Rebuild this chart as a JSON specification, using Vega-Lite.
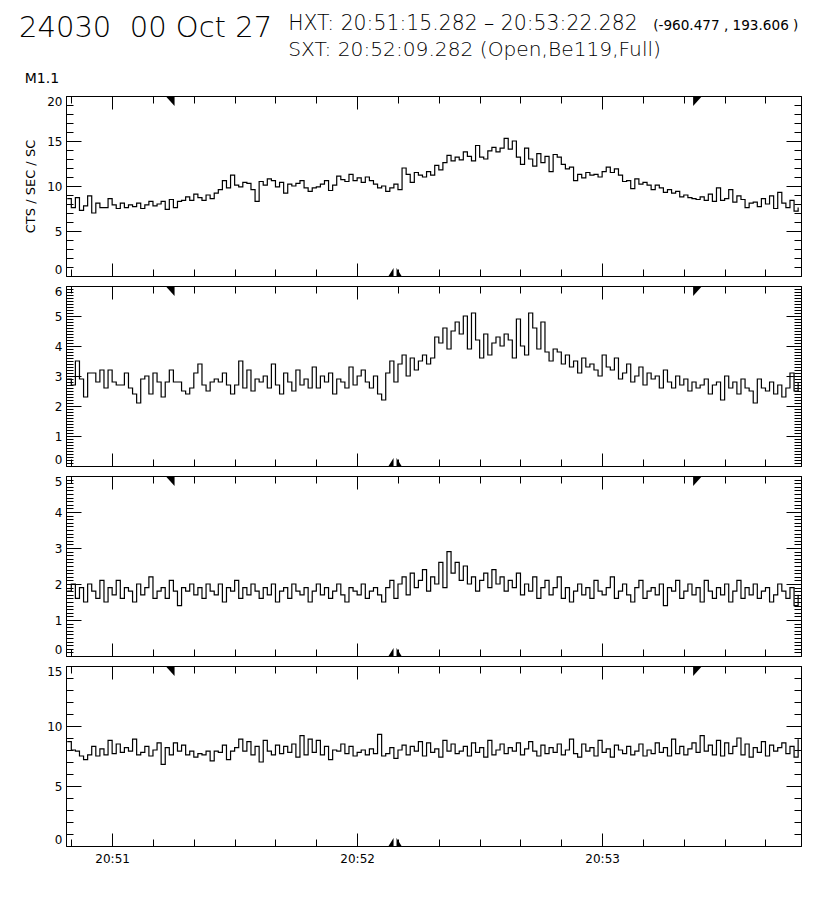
{
"$schema":"https://vega.github.io/schema/vega-lite/v6.json",
"background":"white",
"padding":{"left":18,"top":13,"right":5,"bottom":5},
"spacing":7,
"datasets":{
"mk":[{"t":75.282,"k":"s"},{"t":202.282,"k":"e"},{"t":129.282,"k":"x"}],
"lc":[
{"t":49,"a":8.6,"b":2.9,"c":1.8,"d":8.7},
{"t":50,"a":7.6,"b":2.7,"c":2.0,"d":8.0},
{"t":51,"a":8.7,"b":3.5,"c":1.6,"d":7.9},
{"t":52,"a":7.3,"b":2.9,"c":1.9,"d":7.5},
{"t":53,"a":7.8,"b":2.3,"c":1.5,"d":7.2},
{"t":54,"a":8.9,"b":3.1,"c":2.0,"d":7.6},
{"t":55,"a":7.0,"b":3.1,"c":1.8,"d":8.3},
{"t":56,"a":8.1,"b":2.8,"c":1.6,"d":7.5},
{"t":57,"a":7.6,"b":3.2,"c":2.1,"d":8.1},
{"t":58,"a":7.6,"b":2.6,"c":1.5,"d":7.6},
{"t":59,"a":8.6,"b":3.2,"c":1.9,"d":8.8},
{"t":60,"a":7.9,"b":2.8,"c":1.7,"d":7.7},
{"t":61,"a":7.5,"b":2.7,"c":2.1,"d":8.5},
{"t":62,"a":8.1,"b":2.7,"c":1.6,"d":7.8},
{"t":63,"a":7.6,"b":3.1,"c":1.9,"d":8.2},
{"t":64,"a":7.9,"b":2.6,"c":1.8,"d":7.9},
{"t":65,"a":7.7,"b":2.4,"c":1.5,"d":8.9},
{"t":66,"a":8.1,"b":2.1,"c":2.0,"d":7.6},
{"t":67,"a":7.5,"b":2.9,"c":1.7,"d":7.8},
{"t":68,"a":7.9,"b":3.0,"c":1.9,"d":8.3},
{"t":69,"a":8.3,"b":2.4,"c":2.2,"d":7.5},
{"t":70,"a":7.8,"b":3.1,"c":1.6,"d":8.0},
{"t":71,"a":8.0,"b":2.8,"c":1.8,"d":8.6},
{"t":72,"a":8.3,"b":2.3,"c":1.9,"d":6.8},
{"t":73,"a":7.4,"b":2.8,"c":1.6,"d":8.2},
{"t":74,"a":8.5,"b":3.2,"c":2.1,"d":7.6},
{"t":75,"a":7.6,"b":2.8,"c":1.8,"d":8.6},
{"t":76,"a":8.3,"b":2.8,"c":1.4,"d":7.9},
{"t":77,"a":8.4,"b":2.5,"c":1.9,"d":8.4},
{"t":78,"a":8.8,"b":2.4,"c":1.8,"d":7.6},
{"t":79,"a":8.4,"b":2.6,"c":2.0,"d":7.9},
{"t":80,"a":9.1,"b":3.1,"c":1.7,"d":7.4},
{"t":81,"a":8.7,"b":3.4,"c":1.9,"d":7.7},
{"t":82,"a":8.4,"b":2.7,"c":1.6,"d":7.6},
{"t":83,"a":9.0,"b":2.5,"c":2.0,"d":7.9},
{"t":84,"a":8.6,"b":2.8,"c":1.8,"d":7.1},
{"t":85,"a":9.2,"b":2.9,"c":1.7,"d":7.9},
{"t":86,"a":9.6,"b":2.8,"c":2.0,"d":7.8},
{"t":87,"a":10.6,"b":3.1,"c":1.5,"d":8.4},
{"t":88,"a":9.8,"b":2.7,"c":1.9,"d":7.2},
{"t":89,"a":11.2,"b":2.4,"c":1.8,"d":7.9},
{"t":90,"a":10.1,"b":2.7,"c":2.1,"d":8.2},
{"t":91,"a":9.9,"b":3.5,"c":1.6,"d":8.9},
{"t":92,"a":10.4,"b":2.6,"c":1.9,"d":7.9},
{"t":93,"a":10.3,"b":3.2,"c":1.7,"d":8.7},
{"t":94,"a":9.6,"b":2.5,"c":2.0,"d":7.6},
{"t":95,"a":8.3,"b":2.9,"c":1.8,"d":8.3},
{"t":96,"a":10.5,"b":2.8,"c":1.6,"d":7.0},
{"t":97,"a":10.1,"b":3.0,"c":1.9,"d":8.8},
{"t":98,"a":10.8,"b":2.6,"c":1.7,"d":7.9},
{"t":99,"a":10.6,"b":3.4,"c":2.0,"d":7.6},
{"t":100,"a":9.9,"b":2.7,"c":1.5,"d":8.4},
{"t":101,"a":10.4,"b":2.4,"c":1.8,"d":7.7},
{"t":102,"a":9.2,"b":3.1,"c":1.9,"d":8.3},
{"t":103,"a":10.2,"b":2.8,"c":1.6,"d":7.8},
{"t":104,"a":10.0,"b":2.5,"c":2.0,"d":8.5},
{"t":105,"a":10.3,"b":3.2,"c":1.8,"d":7.4},
{"t":106,"a":10.6,"b":2.7,"c":1.7,"d":9.2},
{"t":107,"a":9.8,"b":2.9,"c":1.9,"d":7.6},
{"t":108,"a":9.4,"b":2.6,"c":1.5,"d":8.9},
{"t":109,"a":9.8,"b":3.3,"c":1.8,"d":7.8},
{"t":110,"a":9.9,"b":2.6,"c":2.0,"d":8.8},
{"t":111,"a":10.2,"b":3.0,"c":1.7,"d":7.6},
{"t":112,"a":10.6,"b":2.8,"c":1.9,"d":8.3},
{"t":113,"a":9.5,"b":3.1,"c":1.6,"d":7.2},
{"t":114,"a":10.1,"b":2.4,"c":1.8,"d":8.0},
{"t":115,"a":11.1,"b":2.9,"c":2.0,"d":7.9},
{"t":116,"a":10.7,"b":2.8,"c":1.7,"d":8.5},
{"t":117,"a":10.5,"b":2.6,"c":1.5,"d":7.7},
{"t":118,"a":11.3,"b":3.3,"c":1.9,"d":8.3},
{"t":119,"a":10.6,"b":2.7,"c":1.8,"d":7.5},
{"t":120,"a":10.9,"b":3.0,"c":1.7,"d":7.8},
{"t":121,"a":10.4,"b":3.2,"c":2.0,"d":8.0},
{"t":122,"a":11.0,"b":2.8,"c":1.6,"d":7.6},
{"t":123,"a":10.6,"b":2.6,"c":1.8,"d":8.1},
{"t":124,"a":10.2,"b":3.0,"c":1.9,"d":7.7},
{"t":125,"a":9.8,"b":2.4,"c":1.7,"d":9.3},
{"t":126,"a":10.0,"b":2.2,"c":1.5,"d":7.5},
{"t":127,"a":9.4,"b":3.1,"c":1.9,"d":7.7},
{"t":128,"a":9.8,"b":3.5,"c":2.1,"d":8.2},
{"t":129,"a":10.2,"b":2.8,"c":1.6,"d":7.3},
{"t":130,"a":9.6,"b":3.4,"c":2.0,"d":8.0},
{"t":131,"a":12.0,"b":3.7,"c":2.2,"d":8.4},
{"t":132,"a":11.3,"b":3.0,"c":1.7,"d":7.6},
{"t":133,"a":10.4,"b":3.6,"c":2.3,"d":8.3},
{"t":134,"a":11.5,"b":3.2,"c":1.9,"d":7.9},
{"t":135,"a":11.2,"b":3.5,"c":2.1,"d":8.7},
{"t":136,"a":11.0,"b":3.7,"c":2.4,"d":7.5},
{"t":137,"a":11.6,"b":3.4,"c":1.8,"d":8.6},
{"t":138,"a":11.2,"b":3.6,"c":2.2,"d":7.8},
{"t":139,"a":12.3,"b":4.3,"c":2.0,"d":8.1},
{"t":140,"a":11.8,"b":4.1,"c":2.6,"d":7.4},
{"t":141,"a":12.6,"b":4.6,"c":1.9,"d":8.8},
{"t":142,"a":13.4,"b":3.9,"c":2.9,"d":7.9},
{"t":143,"a":12.8,"b":4.5,"c":2.3,"d":8.5},
{"t":144,"a":13.2,"b":4.8,"c":2.6,"d":7.7},
{"t":145,"a":12.9,"b":4.4,"c":2.1,"d":7.9},
{"t":146,"a":13.8,"b":5.0,"c":2.5,"d":8.3},
{"t":147,"a":13.3,"b":3.9,"c":2.0,"d":7.5},
{"t":148,"a":12.8,"b":5.1,"c":2.2,"d":8.6},
{"t":149,"a":14.5,"b":4.2,"c":1.8,"d":7.8},
{"t":150,"a":13.2,"b":3.6,"c":2.1,"d":8.2},
{"t":151,"a":13.0,"b":4.4,"c":2.3,"d":7.4},
{"t":152,"a":13.9,"b":3.7,"c":1.9,"d":8.8},
{"t":153,"a":14.3,"b":4.1,"c":2.4,"d":7.6},
{"t":154,"a":13.8,"b":4.3,"c":2.0,"d":8.0},
{"t":155,"a":14.2,"b":4.0,"c":2.2,"d":8.5},
{"t":156,"a":15.3,"b":4.4,"c":1.8,"d":7.7},
{"t":157,"a":14.1,"b":4.2,"c":2.1,"d":8.2},
{"t":158,"a":15.0,"b":3.6,"c":1.9,"d":7.9},
{"t":159,"a":13.2,"b":4.9,"c":2.3,"d":8.6},
{"t":160,"a":12.4,"b":4.0,"c":1.7,"d":7.6},
{"t":161,"a":14.2,"b":3.7,"c":2.0,"d":8.1},
{"t":162,"a":13.0,"b":5.1,"c":1.8,"d":8.7},
{"t":163,"a":12.2,"b":4.6,"c":2.2,"d":7.9},
{"t":164,"a":13.6,"b":3.9,"c":1.6,"d":7.5},
{"t":165,"a":12.6,"b":4.8,"c":1.9,"d":8.4},
{"t":166,"a":13.3,"b":3.8,"c":2.1,"d":7.7},
{"t":167,"a":11.6,"b":3.5,"c":1.7,"d":8.2},
{"t":168,"a":13.5,"b":3.9,"c":1.9,"d":7.8},
{"t":169,"a":13.2,"b":3.8,"c":2.2,"d":8.5},
{"t":170,"a":12.4,"b":3.4,"c":1.6,"d":7.6},
{"t":171,"a":11.9,"b":3.7,"c":1.9,"d":8.0},
{"t":172,"a":12.1,"b":3.3,"c":1.5,"d":8.9},
{"t":173,"a":10.6,"b":3.5,"c":1.8,"d":7.7},
{"t":174,"a":11.3,"b":3.1,"c":2.0,"d":7.4},
{"t":175,"a":10.9,"b":3.6,"c":1.7,"d":8.5},
{"t":176,"a":11.5,"b":3.3,"c":1.9,"d":7.9},
{"t":177,"a":11.2,"b":3.4,"c":1.6,"d":8.2},
{"t":178,"a":11.3,"b":3.2,"c":2.1,"d":7.5},
{"t":179,"a":11.0,"b":3.0,"c":1.8,"d":8.8},
{"t":180,"a":11.6,"b":3.7,"c":1.7,"d":7.8},
{"t":181,"a":12.1,"b":3.3,"c":1.9,"d":8.1},
{"t":182,"a":11.5,"b":3.2,"c":2.2,"d":7.4},
{"t":183,"a":11.9,"b":3.6,"c":1.6,"d":8.4},
{"t":184,"a":11.2,"b":2.9,"c":1.8,"d":8.0},
{"t":185,"a":10.5,"b":3.1,"c":2.0,"d":7.7},
{"t":186,"a":10.6,"b":3.4,"c":1.7,"d":8.3},
{"t":187,"a":9.7,"b":2.8,"c":1.5,"d":7.6},
{"t":188,"a":10.8,"b":3.0,"c":1.9,"d":7.9},
{"t":189,"a":10.2,"b":3.3,"c":2.1,"d":8.5},
{"t":190,"a":10.4,"b":2.7,"c":1.6,"d":7.5},
{"t":191,"a":10.1,"b":3.1,"c":1.8,"d":8.0},
{"t":192,"a":9.6,"b":2.9,"c":1.9,"d":7.7},
{"t":193,"a":10.1,"b":3.0,"c":1.7,"d":8.6},
{"t":194,"a":9.8,"b":2.6,"c":2.0,"d":7.8},
{"t":195,"a":9.3,"b":3.2,"c":1.4,"d":8.2},
{"t":196,"a":9.6,"b":2.8,"c":1.9,"d":7.5},
{"t":197,"a":9.2,"b":2.6,"c":1.8,"d":8.9},
{"t":198,"a":9.4,"b":3.0,"c":2.1,"d":7.7},
{"t":199,"a":8.8,"b":2.7,"c":1.6,"d":8.3},
{"t":200,"a":9.0,"b":2.9,"c":1.8,"d":7.6},
{"t":201,"a":8.7,"b":2.5,"c":2.0,"d":8.1},
{"t":202,"a":8.6,"b":2.8,"c":1.7,"d":8.6},
{"t":203,"a":8.5,"b":2.6,"c":1.9,"d":7.8},
{"t":204,"a":8.8,"b":2.7,"c":1.5,"d":9.2},
{"t":205,"a":8.4,"b":2.9,"c":2.1,"d":7.9},
{"t":206,"a":9.1,"b":2.4,"c":1.8,"d":8.4},
{"t":207,"a":8.3,"b":2.7,"c":1.6,"d":7.6},
{"t":208,"a":9.8,"b":2.8,"c":1.9,"d":8.8},
{"t":209,"a":8.4,"b":2.2,"c":1.7,"d":7.5},
{"t":210,"a":8.6,"b":3.0,"c":2.0,"d":8.6},
{"t":211,"a":9.6,"b":2.6,"c":1.5,"d":7.7},
{"t":212,"a":8.2,"b":2.8,"c":1.8,"d":8.3},
{"t":213,"a":8.9,"b":2.4,"c":2.1,"d":9.0},
{"t":214,"a":8.5,"b":2.9,"c":1.6,"d":7.6},
{"t":215,"a":7.6,"b":2.6,"c":1.9,"d":8.5},
{"t":216,"a":8.1,"b":2.5,"c":1.7,"d":7.4},
{"t":217,"a":8.2,"b":2.1,"c":2.0,"d":8.2},
{"t":218,"a":7.7,"b":2.9,"c":1.6,"d":7.8},
{"t":219,"a":8.6,"b":2.6,"c":1.8,"d":8.7},
{"t":220,"a":8.0,"b":2.5,"c":1.9,"d":7.5},
{"t":221,"a":8.9,"b":2.8,"c":1.5,"d":8.4},
{"t":222,"a":7.5,"b":2.4,"c":1.7,"d":7.9},
{"t":223,"a":9.3,"b":2.7,"c":2.0,"d":8.2},
{"t":224,"a":8.1,"b":2.3,"c":1.8,"d":8.6},
{"t":225,"a":7.6,"b":2.6,"c":1.6,"d":7.7},
{"t":226,"a":8.4,"b":3.1,"c":1.9,"d":8.3},
{"t":227,"a":7.2,"b":2.5,"c":1.4,"d":7.4},
{"t":228,"a":7.6,"b":2.8,"c":1.7,"d":8.9}
]},
"vconcat":[
{"width":735,"height":180,"resolve":{"axis":{"x":"independent","y":"independent"}},
"layer":[
{"data":{"name":"lc"},"mark":{"type":"line","interpolate":"step-after","color":"black","strokeWidth":1.2},
"encoding":{"x":{"field":"t","type":"quantitative","scale":{"domain":[48.7,228.7],"nice":false,"zero":false},"axis":null},
"y":{"field":"a","type":"quantitative","scale":{"domain":[0,20],"nice":false,"zero":false},"axis":{"title":"CTS / SEC / SC","values":[0,5,10,15,20],"ticks":false,"labelFlush":true,"labelPadding":4,"titlePadding":9}}}},
{"data":{"name":"lc"},"mark":{"type":"line","opacity":0},
"encoding":{"x":{"field":"t","type":"quantitative","axis":{"orient":"top","offset":-180,"values":[60,120,180],"labels":false,"tickSize":13,"title":null}},
"y":{"field":"a","type":"quantitative","axis":{"orient":"right","offset":-735,"values":[0,5,10,15,20],"labels":false,"tickSize":15,"title":null}}}},
{"data":{"name":"lc"},"mark":{"type":"line","opacity":0},
"encoding":{"x":{"field":"t","type":"quantitative","axis":{"orient":"top","offset":-180,"values":[50,60,70,80,90,100,110,120,130,140,150,160,170,180,190,200,210,220],"labels":false,"tickSize":7,"title":null}},
"y":{"field":"a","type":"quantitative","axis":{"orient":"right","offset":-735,"tickCount":20,"labels":false,"tickSize":7,"title":null}}}},
{"data":{"name":"lc"},"mark":{"type":"line","opacity":0},
"encoding":{"x":{"field":"t","type":"quantitative","axis":{"orient":"bottom","offset":-180,"values":[60,120,180],"labels":false,"tickSize":13,"title":null}},
"y":{"field":"a","type":"quantitative","axis":{"orient":"left","offset":-735,"values":[0,5,10,15,20],"labels":false,"tickSize":15,"title":null}}}},
{"data":{"name":"lc"},"mark":{"type":"line","opacity":0},
"encoding":{"x":{"field":"t","type":"quantitative","axis":{"orient":"bottom","offset":-180,"values":[50,60,70,80,90,100,110,120,130,140,150,160,170,180,190,200,210,220],"labels":false,"tickSize":7,"title":null}},
"y":{"field":"a","type":"quantitative","axis":{"orient":"left","offset":-735,"tickCount":20,"labels":false,"tickSize":7,"title":null}}}},
{"data":{"name":"mk"},"transform":[{"filter":"datum.k == 's'"}],"mark":{"type":"point","shape":"M -1.8 0 L 0 0 L 0 2 Z","filled":true,"color":"black","opacity":1,"size":100,"strokeWidth":0},
"encoding":{"x":{"field":"t","type":"quantitative","axis":null},"y":{"datum":20,"type":"quantitative","axis":null}}},
{"data":{"name":"mk"},"transform":[{"filter":"datum.k == 'e'"}],"mark":{"type":"point","shape":"M 0 0 L 1.8 0 L 0 2 Z","filled":true,"color":"black","opacity":1,"size":100,"strokeWidth":0},
"encoding":{"x":{"field":"t","type":"quantitative","axis":null},"y":{"datum":20,"type":"quantitative","axis":null}}},
{"data":{"name":"mk"},"transform":[{"filter":"datum.k == 'x'"}],"mark":{"type":"point","shape":"M -0.3 0 L -0.3 -1.6 L -1.3 0 Z M 0.3 0 L 0.3 -1.6 L 1.3 0 Z","filled":true,"color":"black","opacity":1,"size":100,"strokeWidth":0},
"encoding":{"x":{"field":"t","type":"quantitative","axis":null},"y":{"datum":0,"type":"quantitative","axis":null}}},
{"data":{"values":[{}]},"mark":{"type":"text","text":"24030\u00a0\u00a000 Oct 27","align":"left","baseline":"alphabetic","fontSize":29,"font":"DejaVu Sans","fontWeight":200,"color":"black"},
"encoding":{"x":{"datum":37.2,"type":"quantitative","axis":null},"y":{"datum":26.6,"type":"quantitative","axis":null}}},
{"data":{"values":[{}]},"mark":{"type":"text","text":"HXT: 20:51:15.282 \u2013 20:53:22.282","align":"left","baseline":"alphabetic","fontSize":20.4,"font":"DejaVu Sans","fontWeight":200,"color":"black"},
"encoding":{"x":{"datum":103.1,"type":"quantitative","axis":null},"y":{"datum":27.3,"type":"quantitative","axis":null}}},
{"data":{"values":[{}]},"mark":{"type":"text","text":"(-960.477 , 193.606 )","align":"left","baseline":"alphabetic","fontSize":13.6,"font":"DejaVu Sans","fontWeight":"normal","color":"black"},
"encoding":{"x":{"datum":192.5,"type":"quantitative","axis":null},"y":{"datum":27.3,"type":"quantitative","axis":null}}},
{"data":{"values":[{}]},"mark":{"type":"text","text":"SXT: 20:52:09.282 (Open,Be119,Full)","align":"left","baseline":"alphabetic","fontSize":20.2,"font":"DejaVu Sans","fontWeight":200,"color":"black"},
"encoding":{"x":{"datum":103.1,"type":"quantitative","axis":null},"y":{"datum":24.5,"type":"quantitative","axis":null}}},
{"data":{"values":[{}]},"mark":{"type":"text","text":"M1.1","align":"left","baseline":"alphabetic","fontSize":14,"font":"DejaVu Sans","fontWeight":"normal","color":"black"},
"encoding":{"x":{"datum":38.6,"type":"quantitative","axis":null},"y":{"datum":21.5,"type":"quantitative","axis":null}}}
]},
{"width":735,"height":180,"resolve":{"axis":{"x":"independent","y":"independent"}},
"layer":[
{"data":{"name":"lc"},"mark":{"type":"line","interpolate":"step-after","color":"black","strokeWidth":1.2},
"encoding":{"x":{"field":"t","type":"quantitative","scale":{"domain":[48.7,228.7],"nice":false,"zero":false},"axis":null},
"y":{"field":"b","type":"quantitative","scale":{"domain":[0,6],"nice":false,"zero":false},"axis":{"title":null,"values":[0,1,2,3,4,5,6],"ticks":false,"labelFlush":true,"labelPadding":4}}}},
{"data":{"name":"lc"},"mark":{"type":"line","opacity":0},
"encoding":{"x":{"field":"t","type":"quantitative","axis":{"orient":"top","offset":-180,"values":[60,120,180],"labels":false,"tickSize":13,"title":null}},
"y":{"field":"b","type":"quantitative","axis":{"orient":"right","offset":-735,"values":[0,1,2,3,4,5,6],"labels":false,"tickSize":15,"title":null}}}},
{"data":{"name":"lc"},"mark":{"type":"line","opacity":0},
"encoding":{"x":{"field":"t","type":"quantitative","axis":{"orient":"top","offset":-180,"values":[50,60,70,80,90,100,110,120,130,140,150,160,170,180,190,200,210,220],"labels":false,"tickSize":7,"title":null}},
"y":{"field":"b","type":"quantitative","axis":{"orient":"right","offset":-735,"tickCount":60,"labels":false,"tickSize":7,"title":null}}}},
{"data":{"name":"lc"},"mark":{"type":"line","opacity":0},
"encoding":{"x":{"field":"t","type":"quantitative","axis":{"orient":"bottom","offset":-180,"values":[60,120,180],"labels":false,"tickSize":13,"title":null}},
"y":{"field":"b","type":"quantitative","axis":{"orient":"left","offset":-735,"values":[0,1,2,3,4,5,6],"labels":false,"tickSize":15,"title":null}}}},
{"data":{"name":"lc"},"mark":{"type":"line","opacity":0},
"encoding":{"x":{"field":"t","type":"quantitative","axis":{"orient":"bottom","offset":-180,"values":[50,60,70,80,90,100,110,120,130,140,150,160,170,180,190,200,210,220],"labels":false,"tickSize":7,"title":null}},
"y":{"field":"b","type":"quantitative","axis":{"orient":"left","offset":-735,"tickCount":60,"labels":false,"tickSize":7,"title":null}}}},
{"data":{"name":"mk"},"transform":[{"filter":"datum.k == 's'"}],"mark":{"type":"point","shape":"M -1.8 0 L 0 0 L 0 2 Z","filled":true,"color":"black","opacity":1,"size":100,"strokeWidth":0},
"encoding":{"x":{"field":"t","type":"quantitative","axis":null},"y":{"datum":6,"type":"quantitative","axis":null}}},
{"data":{"name":"mk"},"transform":[{"filter":"datum.k == 'e'"}],"mark":{"type":"point","shape":"M 0 0 L 1.8 0 L 0 2 Z","filled":true,"color":"black","opacity":1,"size":100,"strokeWidth":0},
"encoding":{"x":{"field":"t","type":"quantitative","axis":null},"y":{"datum":6,"type":"quantitative","axis":null}}},
{"data":{"name":"mk"},"transform":[{"filter":"datum.k == 'x'"}],"mark":{"type":"point","shape":"M -0.3 0 L -0.3 -1.6 L -1.3 0 Z M 0.3 0 L 0.3 -1.6 L 1.3 0 Z","filled":true,"color":"black","opacity":1,"size":100,"strokeWidth":0},
"encoding":{"x":{"field":"t","type":"quantitative","axis":null},"y":{"datum":0,"type":"quantitative","axis":null}}}
]},
{"width":735,"height":180,"resolve":{"axis":{"x":"independent","y":"independent"}},
"layer":[
{"data":{"name":"lc"},"mark":{"type":"line","interpolate":"step-after","color":"black","strokeWidth":1.2},
"encoding":{"x":{"field":"t","type":"quantitative","scale":{"domain":[48.7,228.7],"nice":false,"zero":false},"axis":null},
"y":{"field":"c","type":"quantitative","scale":{"domain":[0,5],"nice":false,"zero":false},"axis":{"title":null,"values":[0,1,2,3,4,5],"ticks":false,"labelFlush":true,"labelPadding":4}}}},
{"data":{"name":"lc"},"mark":{"type":"line","opacity":0},
"encoding":{"x":{"field":"t","type":"quantitative","axis":{"orient":"top","offset":-180,"values":[60,120,180],"labels":false,"tickSize":13,"title":null}},
"y":{"field":"c","type":"quantitative","axis":{"orient":"right","offset":-735,"values":[0,1,2,3,4,5],"labels":false,"tickSize":15,"title":null}}}},
{"data":{"name":"lc"},"mark":{"type":"line","opacity":0},
"encoding":{"x":{"field":"t","type":"quantitative","axis":{"orient":"top","offset":-180,"values":[50,60,70,80,90,100,110,120,130,140,150,160,170,180,190,200,210,220],"labels":false,"tickSize":7,"title":null}},
"y":{"field":"c","type":"quantitative","axis":{"orient":"right","offset":-735,"tickCount":50,"labels":false,"tickSize":7,"title":null}}}},
{"data":{"name":"lc"},"mark":{"type":"line","opacity":0},
"encoding":{"x":{"field":"t","type":"quantitative","axis":{"orient":"bottom","offset":-180,"values":[60,120,180],"labels":false,"tickSize":13,"title":null}},
"y":{"field":"c","type":"quantitative","axis":{"orient":"left","offset":-735,"values":[0,1,2,3,4,5],"labels":false,"tickSize":15,"title":null}}}},
{"data":{"name":"lc"},"mark":{"type":"line","opacity":0},
"encoding":{"x":{"field":"t","type":"quantitative","axis":{"orient":"bottom","offset":-180,"values":[50,60,70,80,90,100,110,120,130,140,150,160,170,180,190,200,210,220],"labels":false,"tickSize":7,"title":null}},
"y":{"field":"c","type":"quantitative","axis":{"orient":"left","offset":-735,"tickCount":50,"labels":false,"tickSize":7,"title":null}}}},
{"data":{"name":"mk"},"transform":[{"filter":"datum.k == 's'"}],"mark":{"type":"point","shape":"M -1.8 0 L 0 0 L 0 2 Z","filled":true,"color":"black","opacity":1,"size":100,"strokeWidth":0},
"encoding":{"x":{"field":"t","type":"quantitative","axis":null},"y":{"datum":5,"type":"quantitative","axis":null}}},
{"data":{"name":"mk"},"transform":[{"filter":"datum.k == 'e'"}],"mark":{"type":"point","shape":"M 0 0 L 1.8 0 L 0 2 Z","filled":true,"color":"black","opacity":1,"size":100,"strokeWidth":0},
"encoding":{"x":{"field":"t","type":"quantitative","axis":null},"y":{"datum":5,"type":"quantitative","axis":null}}},
{"data":{"name":"mk"},"transform":[{"filter":"datum.k == 'x'"}],"mark":{"type":"point","shape":"M -0.3 0 L -0.3 -1.6 L -1.3 0 Z M 0.3 0 L 0.3 -1.6 L 1.3 0 Z","filled":true,"color":"black","opacity":1,"size":100,"strokeWidth":0},
"encoding":{"x":{"field":"t","type":"quantitative","axis":null},"y":{"datum":0,"type":"quantitative","axis":null}}}
]},
{"width":735,"height":180,"resolve":{"axis":{"x":"independent","y":"independent"}},
"layer":[
{"data":{"name":"lc"},"mark":{"type":"line","interpolate":"step-after","color":"black","strokeWidth":1.2},
"encoding":{"x":{"field":"t","type":"quantitative","scale":{"domain":[48.7,228.7],"nice":false,"zero":false},"axis":{"title":null,"values":[60,120,180],"ticks":false,"labelPadding":7,"labelExpr":"'20:5' + (datum.value / 60)"}},
"y":{"field":"d","type":"quantitative","scale":{"domain":[0,15],"nice":false,"zero":false},"axis":{"title":null,"values":[0,5,10,15],"ticks":false,"labelFlush":true,"labelPadding":4}}}},
{"data":{"name":"lc"},"mark":{"type":"line","opacity":0},
"encoding":{"x":{"field":"t","type":"quantitative","axis":{"orient":"top","offset":-180,"values":[60,120,180],"labels":false,"tickSize":13,"title":null}},
"y":{"field":"d","type":"quantitative","axis":{"orient":"right","offset":-735,"values":[0,5,10,15],"labels":false,"tickSize":15,"title":null}}}},
{"data":{"name":"lc"},"mark":{"type":"line","opacity":0},
"encoding":{"x":{"field":"t","type":"quantitative","axis":{"orient":"top","offset":-180,"values":[50,60,70,80,90,100,110,120,130,140,150,160,170,180,190,200,210,220],"labels":false,"tickSize":7,"title":null}},
"y":{"field":"d","type":"quantitative","axis":{"orient":"right","offset":-735,"tickCount":15,"labels":false,"tickSize":7,"title":null}}}},
{"data":{"name":"lc"},"mark":{"type":"line","opacity":0},
"encoding":{"x":{"field":"t","type":"quantitative","axis":{"orient":"bottom","offset":-180,"values":[60,120,180],"labels":false,"tickSize":13,"title":null}},
"y":{"field":"d","type":"quantitative","axis":{"orient":"left","offset":-735,"values":[0,5,10,15],"labels":false,"tickSize":15,"title":null}}}},
{"data":{"name":"lc"},"mark":{"type":"line","opacity":0},
"encoding":{"x":{"field":"t","type":"quantitative","axis":{"orient":"bottom","offset":-180,"values":[50,60,70,80,90,100,110,120,130,140,150,160,170,180,190,200,210,220],"labels":false,"tickSize":7,"title":null}},
"y":{"field":"d","type":"quantitative","axis":{"orient":"left","offset":-735,"tickCount":15,"labels":false,"tickSize":7,"title":null}}}},
{"data":{"name":"mk"},"transform":[{"filter":"datum.k == 's'"}],"mark":{"type":"point","shape":"M -1.8 0 L 0 0 L 0 2 Z","filled":true,"color":"black","opacity":1,"size":100,"strokeWidth":0},
"encoding":{"x":{"field":"t","type":"quantitative","axis":null},"y":{"datum":15,"type":"quantitative","axis":null}}},
{"data":{"name":"mk"},"transform":[{"filter":"datum.k == 'e'"}],"mark":{"type":"point","shape":"M 0 0 L 1.8 0 L 0 2 Z","filled":true,"color":"black","opacity":1,"size":100,"strokeWidth":0},
"encoding":{"x":{"field":"t","type":"quantitative","axis":null},"y":{"datum":15,"type":"quantitative","axis":null}}},
{"data":{"name":"mk"},"transform":[{"filter":"datum.k == 'x'"}],"mark":{"type":"point","shape":"M -0.3 0 L -0.3 -1.6 L -1.3 0 Z M 0.3 0 L 0.3 -1.6 L 1.3 0 Z","filled":true,"color":"black","opacity":1,"size":100,"strokeWidth":0},
"encoding":{"x":{"field":"t","type":"quantitative","axis":null},"y":{"datum":0,"type":"quantitative","axis":null}}}
]}
],
"config":{
"view":{"stroke":"black","strokeWidth":1},
"font":"DejaVu Sans",
"text":{"font":"DejaVu Sans"},
"axis":{"grid":false,"domain":false,"labelFont":"DejaVu Sans","labelFontSize":12,"labelFontWeight":"normal","labelColor":"black","titleFont":"DejaVu Sans","titleFontSize":13,"titleFontWeight":"normal","titleColor":"black","tickColor":"black","tickWidth":1}
}
}
